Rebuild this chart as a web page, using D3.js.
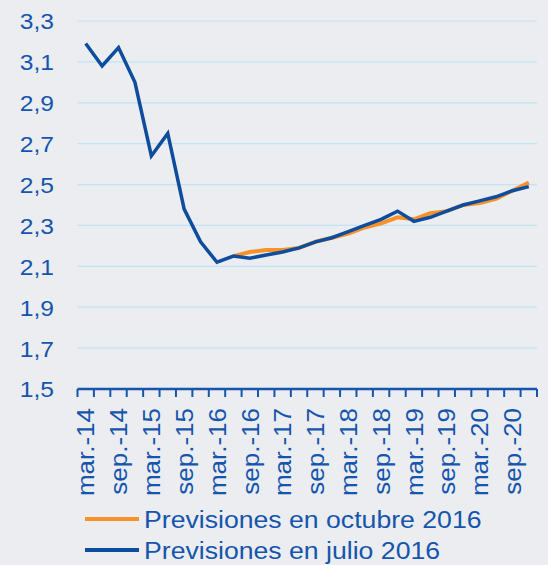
<!DOCTYPE html>
<html>
<head>
<meta charset="utf-8">
<script src="https://cdn.jsdelivr.net/npm/d3@7"></script>
<style>
  body { margin: 0; background: #ebedf0; }
  svg { display: block; font-family: "Liberation Sans", Arial, sans-serif; }
</style>
</head>
<body>
<svg width="548" height="565"></svg>
<script>
// quarters mar.-14 .. dic.-20
let years = ["14", "15", "16", "17", "18", "19", "20"];
let months = ["mar.", "jun.", "sep.", "dic."];
let quarters = [];
years.forEach(function(yy) { months.forEach(function(m) { quarters.push(m + "-" + yy); }); });

let julio2016 = [3.19, 3.08, 3.17, 3.00, 2.64, 2.75, 2.38, 2.22, 2.12, 2.15,
                 2.14, 2.155, 2.17, 2.19, 2.22, 2.24, 2.27, 2.30, 2.33, 2.37,
                 2.32, 2.34, 2.37, 2.40, 2.42, 2.44, 2.47, 2.49];
// octubre 2016 starts at jun.-16
let octubre2016 = [null, null, null, null, null, null, null, null, null, 2.15,
                   2.17, 2.18, 2.18, 2.19, 2.22, 2.24, 2.26, 2.29, 2.31, 2.34,
                   2.33, 2.36, 2.37, 2.40, 2.41, 2.43, 2.47, 2.51];

let yTicks = [1.5, 1.7, 1.9, 2.1, 2.3, 2.5, 2.7, 2.9, 3.1, 3.3];
let legendLabels = ["Previsiones en octubre 2016", "Previsiones en julio 2016"];

let textColor = "#1555ad",
    blue = "#0e4c9e",
    orange = "#f7922a",
    gridColor = "#c2e3f5";

let svg = d3.select("svg");

let x = d3.scaleBand()
    .domain(quarters)
    .range([77.5, 537]);

let y = d3.scaleLinear()
    .domain([1.5, 3.3])
    .range([389, 21]);

let fmt = function(v) { return d3.format(".1f")(v).replace(".", ","); };

// gridlines
svg.append("g").selectAll("line")
  .data(yTicks.slice(1))
  .enter().append("line")
    .attr("x1", 77.5).attr("x2", 537)
    .attr("y1", function(d) { return y(d); })
    .attr("y2", function(d) { return y(d); })
    .attr("stroke", gridColor)
    .attr("stroke-width", 1.2);

// y labels (glyphs are a bit wider than Arial in the original)
let yAxis = d3.axisLeft(y).tickValues(yTicks).tickFormat(fmt).tickSize(0).tickPadding(0);
let yGroup = svg.append("g").attr("transform", "translate(54,0)").call(yAxis);
yGroup.select(".domain").remove();
yGroup.selectAll("text")
    .attr("fill", textColor)
    .attr("font-size", 22)
    .attr("font-family", "Liberation Sans, Arial, sans-serif")
    .attr("dy", "0.36em")
    .attr("transform", "scale(1.12,1)");

// x axis line + ticks at band edges
let xg = svg.append("g");
xg.append("line")
    .attr("x1", x.range()[0]).attr("x2", x.range()[1])
    .attr("y1", 389).attr("y2", 389)
    .attr("stroke", textColor).attr("stroke-width", 2.5);
let edges = quarters.map(function(q) { return x(q); }).concat([x.range()[1]]);
xg.selectAll("line.tick")
  .data(edges)
  .enter().append("line")
    .attr("class", "tick")
    .attr("x1", function(d) { return d; }).attr("x2", function(d) { return d; })
    .attr("y1", 389).attr("y2", 397)
    .attr("stroke", textColor).attr("stroke-width", 2);

// x labels, every other quarter
xg.selectAll("text")
  .data(quarters.filter(function(q, i) { return i % 2 === 0; }))
  .enter().append("text")
    .attr("transform", function(d) {
      return "translate(" + (x(d) + x.bandwidth() / 2) + ",408) rotate(-90) scale(1.13,1)";
    })
    .attr("text-anchor", "end")
    .attr("dy", "0.38em")
    .attr("font-size", 23)
    .attr("fill", textColor)
    .text(function(d) { return d; });

// lines
let line = d3.line()
  .defined(function(d) { return d != null; })
  .x(function(d, i) { return x(quarters[i]) + x.bandwidth() / 2; })
  .y(function(d) { return y(d); });

svg.append("path")
    .datum(octubre2016)
    .attr("fill", "none")
    .attr("stroke", orange)
    .attr("stroke-width", 4)
    .attr("stroke-linejoin", "round")
    .attr("d", line);

svg.append("path")
    .datum(julio2016)
    .attr("fill", "none")
    .attr("stroke", blue)
    .attr("stroke-width", 3.5)
    .attr("stroke-linejoin", "miter")
    .attr("d", line);

// legend
let legend = svg.append("g");
[orange, blue].forEach(function(c, i) {
  let ly = 519 + i * 31;
  legend.append("line")
      .attr("x1", 85).attr("x2", 139)
      .attr("y1", ly).attr("y2", ly)
      .attr("stroke", c).attr("stroke-width", 4);
  legend.append("text")
      .attr("transform", "translate(144," + (ly + 9) + ") scale(1.11,1)")
      .attr("font-size", 24)
      .attr("fill", textColor)
      .text(legendLabels[i]);
});
</script>
</body>
</html>
